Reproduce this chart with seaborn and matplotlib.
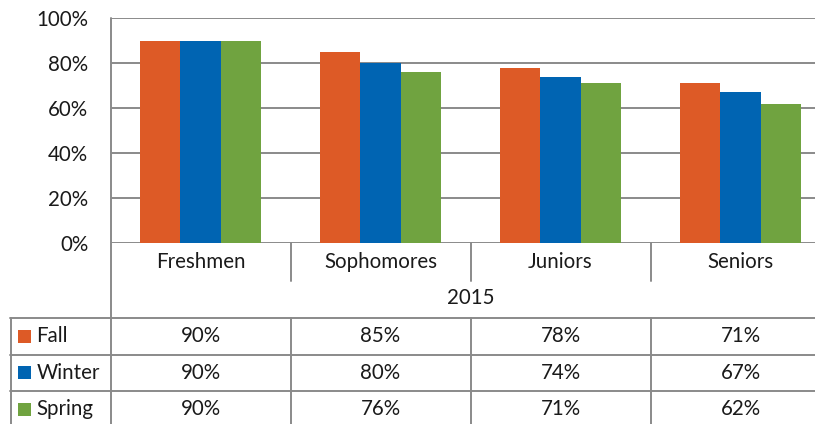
import matplotlib
matplotlib.use("Agg")
import matplotlib.pyplot as plt
import seaborn as sns
import pandas as pd
from matplotlib.lines import Line2D
from matplotlib.patches import Rectangle

categories = ["Freshmen", "Sophomores", "Juniors", "Seniors"]
series_names = ["Fall", "Winter", "Spring"]
fall = [0.90, 0.85, 0.78, 0.71]
winter = [0.90, 0.80, 0.74, 0.67]
spring = [0.90, 0.76, 0.71, 0.62]
year_label = "2015"
ytick_values = [0, 0.2, 0.4, 0.6, 0.8, 1.0]
colors = ["#DD5A26", "#0064B2", "#70A340"]

sns.set_theme(style="white")
plt.rcParams["font.family"] = ["Lato", "DejaVu Sans"]

W, H = 815, 424
fig = plt.figure(figsize=(W / 100, H / 100), dpi=100)
fig.patch.set_facecolor("white")

def fx(x):
    return x / W

def fy(y):
    return 1 - y / H

GRID = "#8A8A8A"
TXT = "#1A1A1A"
FS = 14.8

# plot area: x 110.5 -> 830.5, y 18 -> 243
left, right, top, bottom = 110.5, 830.5, 18, 243
ax = fig.add_axes([fx(left), fy(bottom), (right - left) / W, (bottom - top) / H])

rows = []
for name, vals in zip(series_names, [fall, winter, spring]):
    for c, v in zip(categories, vals):
        rows.append({"cat": c, "season": name, "value": v})
df = pd.DataFrame(rows)

sns.barplot(data=df, x="cat", y="value", hue="season", order=categories,
            hue_order=series_names, palette=colors, width=0.667, gap=0,
            linewidth=0, saturation=1, legend=False, ax=ax)

ax.set_xlim(-0.5, 3.5)
ax.set_ylim(0, 1)
ax.set_yticks(ytick_values)
ax.set_yticklabels([f"{int(round(v*100))}%" for v in ytick_values], fontsize=FS, color=TXT)
ax.tick_params(axis="y", length=0, pad=16)
ax.set_xticks([])
ax.set_xlabel("")
ax.set_ylabel("")
for s in ["top", "right", "bottom", "left"]:
    ax.spines[s].set_visible(False)
ax.set_axisbelow(True)
ax.yaxis.grid(True, color=GRID, linewidth=1.4)
ax.patch.set_alpha(0)

def hline(y, x0, x1):
    fig.add_artist(Line2D([fx(x0), fx(x1)], [fy(y), fy(y)], color=GRID, lw=1.4, zorder=5))

def vline(x, y0, y1):
    fig.add_artist(Line2D([fx(x), fx(x)], [fy(y0), fy(y1)], color=GRID, lw=1.4, zorder=5))

# left border of plot extending to the bottom
vline(110.5, top, H)
# category row
col_edges = [110.5, 290.5, 470.5, 650.5, 830.5]
for x in col_edges[1:-1]:
    vline(x, bottom, 281)
for i, c in enumerate(categories):
    cx = (col_edges[i] + col_edges[i + 1]) / 2
    fig.text(fx(cx), fy(262), c, ha="center", va="center", fontsize=FS, color=TXT)
fig.text(fx((left + right) / 2), fy(298.5), year_label, ha="center", va="center",
         fontsize=FS, color=TXT)

# data table
row_lines = [318, 354.5, 391, 427]
for y in row_lines:
    hline(y, 10, W)
vline(10.5, 318, H)
for x in col_edges[1:-1]:
    vline(x, 318, H)

for r, (name, vals, col) in enumerate(zip(series_names, [fall, winter, spring], colors)):
    cy = (row_lines[r] + row_lines[r + 1]) / 2
    fig.add_artist(Rectangle((fx(18), fy(cy + 6.5)), 13 / W, 13 / H,
                             facecolor=col, edgecolor="none", transform=fig.transFigure))
    fig.text(fx(36.5), fy(cy), name, ha="left", va="center", fontsize=FS, color=TXT)
    for i, v in enumerate(vals):
        cx = (col_edges[i] + col_edges[i + 1]) / 2
        fig.text(fx(cx), fy(cy), f"{int(round(v*100))}%", ha="center", va="center",
                 fontsize=FS, color=TXT)

fig.savefig("out.png", dpi=100, facecolor="white")
